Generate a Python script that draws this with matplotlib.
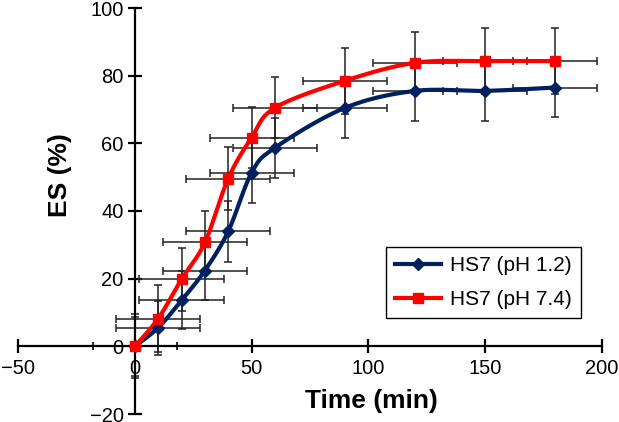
import numpy as np
import matplotlib
matplotlib.use("Agg")
import matplotlib.pyplot as plt

plt.rcParams['font.family'] = ['Liberation Sans', 'DejaVu Sans']

# Data
time_min = [0, 10, 20, 30, 40, 50, 60, 90, 120, 150, 180]
es_ph12 = [0, 5.5, 13.6, 22.4, 34.0, 51.3, 58.7, 70.5, 75.5, 75.5, 76.5]
es_ph74 = [0, 8.2, 19.8, 30.7, 49.6, 61.7, 70.5, 78.5, 83.8, 84.3, 84.3]
yerr_ph12 = [8.8, 8.0, 8.6, 8.8, 9.0, 8.8, 8.8, 8.8, 8.9, 8.8, 8.8]
yerr_ph74 = [9.5, 10.0, 9.4, 9.4, 9.4, 9.0, 9.0, 9.7, 9.2, 9.7, 9.7]
xerr_ph12 = [18, 18, 18, 18, 18, 18, 18, 18, 18, 18, 18]
xerr_ph74 = [18, 18, 18, 18, 18, 18, 18, 18, 18, 18, 18]
labels = ['HS7 (pH 1.2)', 'HS7 (pH 7.4)']
x_ticks = [-50, 0, 50, 100, 150, 200]
y_ticks = [-20, 0, 20, 40, 60, 80, 100]


def smooth(x, y, n=25):
    pts = np.column_stack([x, y]).astype(float)
    out = []
    for i in range(len(pts) - 1):
        p0 = pts[i - 1] if i > 0 else pts[i]
        p1 = pts[i]
        p2 = pts[i + 1]
        p3 = pts[i + 2] if i + 2 < len(pts) else pts[i + 1]
        c1 = p1 + (p2 - p0) / 6.0
        c2 = p2 - (p3 - p1) / 6.0
        t = np.linspace(0, 1, n)[:, None]
        seg = ((1 - t) ** 3) * p1 + 3 * ((1 - t) ** 2) * t * c1 + 3 * (1 - t) * t ** 2 * c2 + t ** 3 * p2
        out.append(seg if i == 0 else seg[1:])
    s = np.vstack(out)
    return s[:, 0], s[:, 1]


fig = plt.figure(figsize=(6.19, 4.22), dpi=100)
ax = fig.add_axes([18 / 619, 1 - 414 / 422, 584 / 619, 406 / 422])

blue = '#002060'
red = '#FF0000'

ax.errorbar(time_min, es_ph12, yerr=yerr_ph12, xerr=xerr_ph12, fmt='none',
            ecolor='#222222', elinewidth=1.1, capsize=3.2, capthick=1.1, zorder=2)
ax.errorbar(time_min, es_ph74, yerr=yerr_ph74, xerr=xerr_ph74, fmt='none',
            ecolor='#222222', elinewidth=1.1, capsize=3.2, capthick=1.1, zorder=2)

sx, sy = smooth(time_min, es_ph12)
ax.plot(sx, sy, color=blue, lw=3, zorder=3, solid_capstyle='round')
ax.plot(time_min, es_ph12, ls='none', marker='D', ms=6.5, color=blue, zorder=4)
sx, sy = smooth(time_min, es_ph74)
ax.plot(sx, sy, color=red, lw=3, zorder=3, solid_capstyle='round')
ax.plot(time_min, es_ph74, ls='none', marker='s', ms=7.5, color=red, zorder=4)

h1, = ax.plot([], [], color=blue, lw=3, marker='D', ms=6.5)
h2, = ax.plot([], [], color=red, lw=3, marker='s', ms=7.5)

ax.set_xlim(-50, 200)
ax.set_ylim(-20, 100)
ax.set_xticks(x_ticks)
ax.set_yticks(y_ticks)

for side in ['top', 'right']:
    ax.spines[side].set_visible(False)
ax.spines['left'].set_position(('data', 0))
ax.spines['bottom'].set_position(('data', 0))
for side in ['left', 'bottom']:
    ax.spines[side].set_linewidth(1.6)
    ax.spines[side].set_color('black')

ax.tick_params(direction='inout', length=10, width=1.6, labelsize=14.5, pad=3)
ax.tick_params(axis='x', pad=4)

ax.set_xlabel('Time (min)', fontsize=19, fontweight='bold', va='center')
ax.xaxis.set_label_coords((371 - 18) / 584, (414 - 401) / 406)
ax.set_ylabel('ES (%)', fontsize=19, fontweight='bold', va='center')
ax.yaxis.set_label_coords((60 - 18) / 584, (414 - 175) / 406)

leg = ax.legend([h1, h2], labels, loc='upper left',
                bbox_to_anchor=((386 - 18) / 584, (414 - 247) / 406),
                fontsize=15, frameon=True, fancybox=False, framealpha=1,
                edgecolor='black', handlelength=2.2, handletextpad=0.4,
                labelspacing=0.7, borderpad=0.45, borderaxespad=0, numpoints=1)
leg.get_frame().set_linewidth(1.0)

fig.savefig('out.png', dpi=100)
